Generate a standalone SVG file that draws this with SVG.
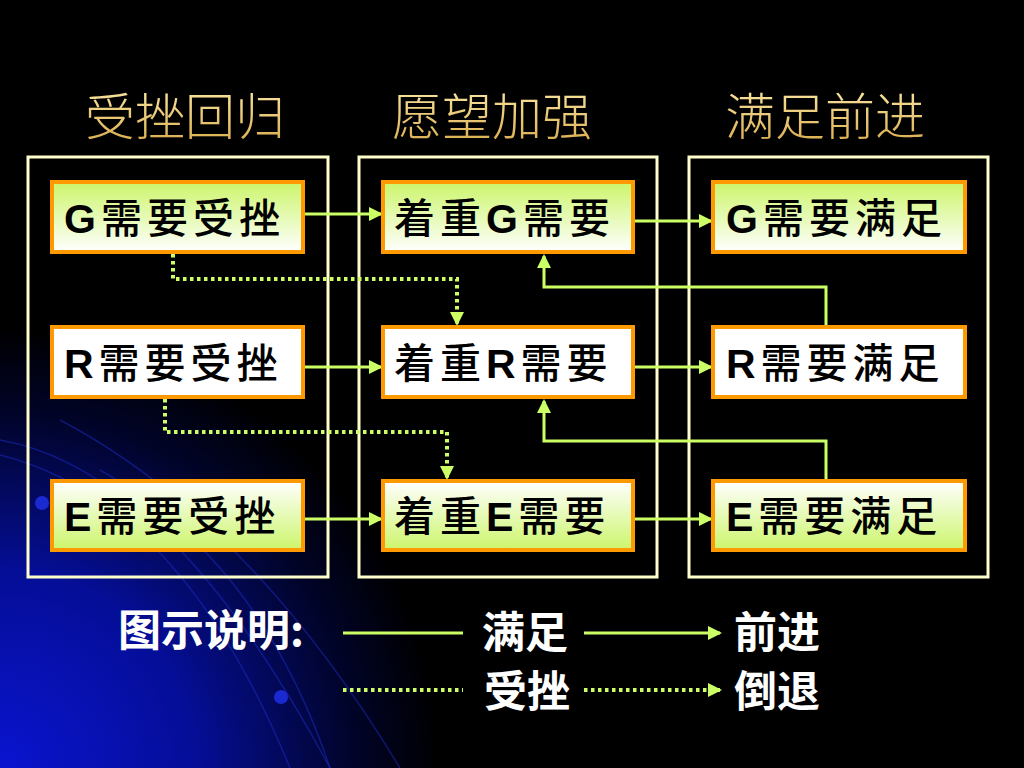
<svg xmlns="http://www.w3.org/2000/svg" width="1024" height="768" viewBox="0 0 1024 768">
<defs>
  <radialGradient id="bgBlue" gradientUnits="userSpaceOnUse" cx="0" cy="768" r="440">
    <stop offset="0" stop-color="#0a14d0"/>
    <stop offset="0.45" stop-color="#050e96"/>
    <stop offset="0.8" stop-color="#01042a"/>
    <stop offset="1" stop-color="#000000"/>
  </radialGradient>
  <linearGradient id="gTop" x1="0" y1="0" x2="0" y2="1">
    <stop offset="0" stop-color="#ccf56a"/>
    <stop offset="1" stop-color="#ffffff"/>
  </linearGradient>
  <linearGradient id="gBot" x1="0" y1="0" x2="0" y2="1">
    <stop offset="0" stop-color="#ffffff"/>
    <stop offset="1" stop-color="#ccf56a"/>
  </linearGradient>
  <linearGradient id="gold" x1="0" y1="0" x2="0" y2="1">
    <stop offset="0" stop-color="#fff0b0"/>
    <stop offset="1" stop-color="#d8a848"/>
  </linearGradient>
  <marker id="arr" markerWidth="14" markerHeight="14" refX="12" refY="7" orient="auto" markerUnits="userSpaceOnUse">
    <path d="M0,0 L14,7 L0,14 Z" fill="#ccff66"/>
  </marker>
  <style>
    .frame{fill:none;stroke:#ffffcc;stroke-width:3}
    .box{stroke:#ff9900;stroke-width:4}
    .white{fill:#ffffff}
    .top{fill:url(#gTop)}
    .bot{fill:url(#gBot)}
    .title{font-family:"Noto Sans CJK SC",sans-serif;font-weight:300;font-size:50px;fill:url(#gold)}
    .lbl{font-family:"Noto Sans CJK SC",sans-serif;font-weight:500;font-size:41px;fill:#000000;letter-spacing:5px}
    .lat{font-family:"Liberation Sans",Arial,sans-serif;font-weight:bold}
    .leg{font-family:"Noto Sans CJK SC",sans-serif;font-weight:bold;font-size:43px;fill:#ffffff}
    .solid{fill:none;stroke:#ccff66;stroke-width:3}
    .dot{fill:none;stroke:#ccff66;stroke-width:4;stroke-dasharray:3.5 3.5}
    .arc{fill:none;stroke:#2030d0;stroke-width:1.5;opacity:0.45}
  </style>
</defs>

<g id="background">
  <rect x="0" y="0" width="1024" height="768" fill="#000000"/>
  <rect x="0" y="0" width="1024" height="768" fill="url(#bgBlue)"/>
  <path class="arc" d="M0,440 Q170,470 330,768"/>
  <path class="arc" d="M0,455 Q180,500 290,768"/>
  <path class="arc" d="M60,420 Q250,520 400,768"/>
  <path class="arc" d="M100,470 Q260,560 330,768"/>
  <circle cx="42" cy="503" r="7" fill="#1a2ad0"/>
  <circle cx="281" cy="697" r="7" fill="#1a2ad0"/>
</g>

<g id="titles">
  <text class="title" x="185" y="135" text-anchor="middle">受挫回归</text>
  <text class="title" x="492" y="135" text-anchor="middle">愿望加强</text>
  <text class="title" x="825" y="135" text-anchor="middle">满足前进</text>
</g>

<g id="frames">
  <rect class="frame" x="28" y="157" width="300" height="420"/>
  <rect class="frame" x="359" y="157" width="298" height="420"/>
  <rect class="frame" x="689" y="157" width="299" height="420"/>
</g>

<g id="connectors">
  <line class="solid" x1="303" y1="214" x2="381" y2="214" marker-end="url(#arr)"/>
  <line class="solid" x1="303" y1="367" x2="381" y2="367" marker-end="url(#arr)"/>
  <line class="solid" x1="303" y1="519" x2="381" y2="519" marker-end="url(#arr)"/>
  <line class="solid" x1="633" y1="221" x2="711" y2="221" marker-end="url(#arr)"/>
  <line class="solid" x1="633" y1="367" x2="711" y2="367" marker-end="url(#arr)"/>
  <line class="solid" x1="633" y1="519" x2="711" y2="519" marker-end="url(#arr)"/>
  <polyline class="solid" points="826,326 826,287 544,287 544,256" marker-end="url(#arr)"/>
  <polyline class="solid" points="826,480 826,441 544,441 544,401" marker-end="url(#arr)"/>
  <polyline class="dot" points="173,254 173,279 457,279 457,324" marker-end="url(#arr)"/>
  <polyline class="dot" points="165,399 165,432 447,432 447,478" marker-end="url(#arr)"/>
</g>

<g id="node-g-frustrated">
  <rect class="box top" x="52" y="182" width="251" height="70"/>
  <text class="lbl" x="64" y="233"><tspan class="lat">G</tspan>需要受挫</text>
</g>
<g id="node-r-frustrated">
  <rect class="box white" x="52" y="327" width="251" height="70"/>
  <text class="lbl" x="64" y="378"><tspan class="lat">R</tspan>需要受挫</text>
</g>
<g id="node-e-frustrated">
  <rect class="box bot" x="52" y="481" width="251" height="69"/>
  <text class="lbl" x="64" y="531"><tspan class="lat">E</tspan>需要受挫</text>
</g>

<g id="node-focus-g">
  <rect class="box top" x="383" y="182" width="250" height="70"/>
  <text class="lbl" x="394" y="233">着重<tspan class="lat">G</tspan>需要</text>
</g>
<g id="node-focus-r">
  <rect class="box white" x="383" y="327" width="250" height="70"/>
  <text class="lbl" x="394" y="378">着重<tspan class="lat">R</tspan>需要</text>
</g>
<g id="node-focus-e">
  <rect class="box bot" x="383" y="481" width="250" height="69"/>
  <text class="lbl" x="394" y="531">着重<tspan class="lat">E</tspan>需要</text>
</g>

<g id="node-g-satisfied">
  <rect class="box top" x="713" y="182" width="252" height="70"/>
  <text class="lbl" x="726" y="233"><tspan class="lat">G</tspan>需要满足</text>
</g>
<g id="node-r-satisfied">
  <rect class="box white" x="713" y="327" width="252" height="70"/>
  <text class="lbl" x="726" y="378"><tspan class="lat">R</tspan>需要满足</text>
</g>
<g id="node-e-satisfied">
  <rect class="box bot" x="713" y="481" width="252" height="69"/>
  <text class="lbl" x="726" y="531"><tspan class="lat">E</tspan>需要满足</text>
</g>

<g id="legend">
  <text class="leg" x="118" y="646">图示说明:</text>
  <line class="solid" x1="343" y1="633" x2="463" y2="633"/>
  <text class="leg" x="482" y="648">满足</text>
  <line class="solid" x1="584" y1="633" x2="720" y2="633" marker-end="url(#arr)"/>
  <text class="leg" x="734" y="648">前进</text>
  <line class="dot" x1="343" y1="690" x2="463" y2="690"/>
  <text class="leg" x="484" y="707">受挫</text>
  <line class="dot" x1="584" y1="690" x2="720" y2="690" marker-end="url(#arr)"/>
  <text class="leg" x="734" y="707">倒退</text>
</g>
</svg>
